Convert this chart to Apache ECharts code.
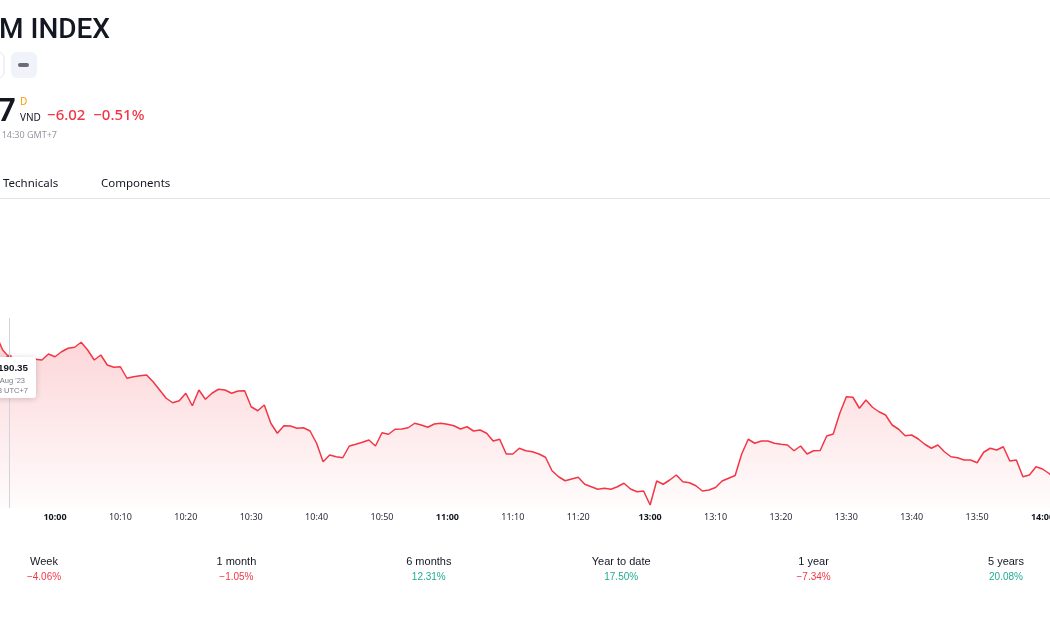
<!DOCTYPE html>
<html>
<head>
<meta charset="utf-8">
<script src="https://cdn.jsdelivr.net/npm/echarts@6/dist/echarts.min.js"></script>
<style>
html,body{margin:0;padding:0;background:#fff;}
#c{width:1050px;height:630px;}
</style>
</head>
<body>
<div id="c"></div>
<script>
// ---- data ----
const times = [
'09:51','09:52','09:53','09:54','09:55','09:56','09:57','09:58','09:59',
'10:00','10:01','10:02','10:03','10:04','10:05','10:06','10:07','10:08','10:09',
'10:10','10:11','10:12','10:13','10:14','10:15','10:16','10:17','10:18','10:19',
'10:20','10:21','10:22','10:23','10:24','10:25','10:26','10:27','10:28','10:29',
'10:30','10:31','10:32','10:33','10:34','10:35','10:36','10:37','10:38','10:39',
'10:40','10:41','10:42','10:43','10:44','10:45','10:46','10:47','10:48','10:49',
'10:50','10:51','10:52','10:53','10:54','10:55','10:56','10:57','10:58','10:59',
'11:00','11:01','11:02','11:03','11:04','11:05','11:06','11:07','11:08','11:09',
'11:10','11:11','11:12','11:13','11:14','11:15','11:16','11:17','11:18','11:19',
'11:20','11:21','11:22','11:23','11:24','11:25','11:26','11:27','11:28','11:29',
'11:30',
'13:00','13:01','13:02','13:03','13:04','13:05','13:06','13:07','13:08','13:09',
'13:10','13:11','13:12','13:13','13:14','13:15','13:16','13:17','13:18','13:19',
'13:20','13:21','13:22','13:23','13:24','13:25','13:26','13:27','13:28','13:29',
'13:30','13:31','13:32','13:33','13:34','13:35','13:36','13:37','13:38','13:39',
'13:40','13:41','13:42','13:43','13:44','13:45','13:46','13:47','13:48','13:49',
'13:50','13:51','13:52','13:53','13:54','13:55','13:56','13:57','13:58','13:59',
'14:00','14:01','14:02'
];
const prices = [
1192.14,1190.94,1190.35,1190.28,1190.22,1190.22,1190.20,1190.14,1190.62,
1190.40,1190.80,1191.08,1191.16,1191.56,1190.94,1190.14,1190.54,1189.74,1189.56,
1189.60,1188.68,1188.80,1188.88,1188.94,1188.40,1187.74,1187.08,1186.72,1186.88,
1187.48,1186.48,1187.74,1187.00,1187.48,1187.80,1187.74,1187.48,1187.66,1187.68,
1186.40,1186.08,1186.54,1185.08,1184.28,1184.88,1184.86,1184.68,1184.72,1184.46,
1183.48,1182.00,1182.54,1182.40,1182.32,1183.26,1183.40,1183.56,1183.74,1183.26,
1184.32,1184.20,1184.60,1184.62,1184.72,1185.08,1184.94,1184.76,1185.02,1185.08,
1185.00,1184.88,1184.62,1184.80,1184.46,1184.54,1184.28,1183.66,1183.80,1182.62,
1182.62,1183.08,1182.88,1182.80,1182.62,1182.36,1181.28,1180.80,1180.48,1180.62,
1180.76,1180.20,1180.00,1179.80,1179.88,1179.80,1180.00,1180.28,1179.82,1179.60,
1179.66,
1178.54,1180.46,1180.20,1180.54,1180.94,1180.40,1180.32,1180.08,1179.66,1179.74,
1179.94,1180.46,1180.68,1180.90,1182.62,1183.80,1183.48,1183.66,1183.66,1183.48,
1183.40,1183.34,1182.88,1183.26,1182.62,1182.88,1182.90,1184.06,1184.22,1185.88,
1187.20,1187.16,1186.28,1186.94,1186.36,1186.00,1185.74,1184.94,1184.60,1184.08,
1184.14,1183.82,1183.40,1183.08,1183.34,1182.80,1182.40,1182.32,1182.14,1182.14,
1181.92,1182.76,1183.08,1182.94,1183.20,1182.06,1182.14,1180.80,1180.94,1181.60,
1181.42,1181.06,1180.62
];
const hiddenTicks = ['11:30'];
const markerTime = '09:53';
const markerDate = "16 Aug '23";
const perfLabels = ['Week','1 month','6 months','Year to date','1 year','5 years'];
const perfValues = ['\u22124.06%','\u22121.05%','12.31%','17.50%','\u22127.34%','20.08%'];
const titleText = 'M INDEX';
const changeText = '\u22126.02  \u22120.51%';

// ---- chart ----
const RED = '#F23645', GREEN = '#22AB94', DARK = '#131722', GRAY = '#787B86';
const chart = echarts.init(document.getElementById('c'), null, {renderer:'canvas'});
const markerIdx = times.indexOf(markerTime);
const markerValue = prices[markerIdx];

const graphics = [];
// header
graphics.push({type:'text', z:100, x:-1, y:17, style:{text:titleText, font:'500 28px Roboto, sans-serif', fill:DARK}});
graphics.push({type:'rect', z:100, shape:{x:-22,y:52,width:26,height:26,r:6}, style:{fill:'#fff', stroke:'#e0e3eb', lineWidth:1}});
graphics.push({type:'rect', z:100, shape:{x:11,y:52,width:26,height:26,r:6}, style:{fill:'#f0f3fa'}});
graphics.push({type:'rect', z:101, shape:{x:18,y:63,width:11,height:4,r:2}, style:{fill:'#6a6d78'}});
graphics.push({type:'text', z:100, x:-3, y:95, style:{text:'7', font:'600 33px "Noto Sans", sans-serif', fill:DARK}});
graphics.push({type:'text', z:100, x:20, y:97, style:{text:'D', font:'10px "Noto Sans", sans-serif', fill:'#FF9800'}});
graphics.push({type:'text', z:100, x:20, y:113, style:{text:'VND', font:'10px "Noto Sans", sans-serif', fill:DARK}});
graphics.push({type:'text', z:100, x:47, y:108, style:{text:changeText, font:'500 15px "Noto Sans", sans-serif', fill:RED}});
graphics.push({type:'text', z:100, x:57, y:131, style:{text:'at 14:30 GMT+7', align:'right', font:'9px "Noto Sans", sans-serif', fill:'#9598A1'}});
// tabs
graphics.push({type:'text', z:100, x:3, y:178, style:{text:'Technicals', font:'11.5px "Noto Sans", sans-serif', fill:DARK}});
graphics.push({type:'text', z:100, x:101, y:178, style:{text:'Components', font:'11.5px "Noto Sans", sans-serif', fill:DARK}});
graphics.push({type:'line', z:100, shape:{x1:0,y1:198.5,x2:1050,y2:198.5}, style:{stroke:'#e0e3eb', lineWidth:1}});
// floating tooltip box
graphics.push({type:'rect', z:110, shape:{x:-40,y:357,width:76,height:41,r:3}, style:{fill:'#fff', shadowBlur:6, shadowColor:'rgba(0,0,0,0.18)', shadowOffsetY:1}});
graphics.push({type:'text', z:111, x:28, y:363, style:{text:markerValue.toLocaleString('en-US',{minimumFractionDigits:2}), align:'right', font:'bold 9.8px "Liberation Sans", sans-serif', fill:DARK}});
graphics.push({type:'text', z:111, x:25, y:377, style:{text:'Wed ' + markerDate, align:'right', font:'7.5px "Liberation Sans", sans-serif', fill:GRAY}});
graphics.push({type:'text', z:111, x:28, y:387, style:{text:markerTime + ' UTC+7', align:'right', font:'7.5px "Liberation Sans", sans-serif', fill:GRAY}});
// performance row
perfLabels.forEach((lab, i) => {
  const cx = 44 + i * 192.4;
  graphics.push({type:'text', z:100, x:cx, y:556, style:{text:lab, align:'center', font:'11px "Liberation Sans", sans-serif', fill:DARK}});
  const v = perfValues[i];
  graphics.push({type:'text', z:100, x:cx, y:572, style:{text:v, align:'center', font:'10px "Liberation Sans", sans-serif', fill: v.startsWith('\u2212') ? RED : GREEN}});
});

chart.setOption({
  animation:false,
  backgroundColor:'#fff',
  grid:{left:-3.86, right:-5.6, top:318, bottom:122, outerBoundsMode:'none', containLabel:false},
  xAxis:{
    type:'category', data:times, boundaryGap:false,
    axisLine:{show:false}, axisTick:{show:false}, splitLine:{show:false},
    axisLabel:{
      margin:5, hideOverlap:false,
      interval:(i, v) => v.endsWith('0') && hiddenTicks.indexOf(v) < 0,
      formatter:(v) => v.endsWith(':00') ? '{b|' + v + '}' : '{n|' + v + '}',
      rich:{
        b:{fontSize:9, fontWeight:'bold', color:DARK, fontFamily:'"Noto Sans", sans-serif'},
        n:{fontSize:9, color:'#2a2e39', fontFamily:'"Noto Sans", sans-serif'}
      }
    }
  },
  yAxis:{type:'value', min:1178.3, max:1193.5, show:false, splitLine:{show:false}},
  series:[
    {
      type:'line', data:prices, showSymbol:false, symbol:'none',
      lineStyle:{color:RED, width:1.5},
      areaStyle:{color:new echarts.graphic.LinearGradient(0,0,0,1,[
        {offset:0, color:'rgba(242,54,69,0.30)'},
        {offset:1, color:'rgba(242,54,69,0.02)'}
      ])},
      markLine:{
        silent:true, symbol:['none','none'], animation:false,
        label:{show:false},
        lineStyle:{color:'#d1d4dc', width:1, type:'solid'},
        data:[{xAxis:markerIdx}]
      },
      z:3
    },
    {
      type:'scatter', data:[[markerIdx, markerValue]], symbolSize:6,
      itemStyle:{color:RED}, z:4, silent:true
    }
  ],
  graphic:graphics
});
</script>
</body>
</html>
